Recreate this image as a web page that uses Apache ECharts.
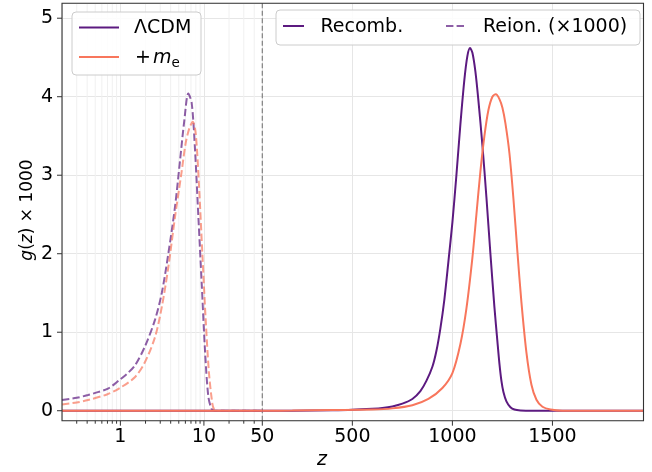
<!DOCTYPE html>
<html><head><meta charset="utf-8">
<script src="https://cdn.jsdelivr.net/npm/echarts@6/dist/echarts.min.js"></script>
<style>html,body{margin:0;padding:0;background:#fff}#c{width:652px;height:472px}</style>
</head><body><div id="c"></div>
<script>
// ---------------- data ----------------
const lcdmRecombZ = [0.2, 50, 200, 400, 500, 600, 650, 700, 750, 800, 840, 870, 900, 920, 940, 960, 980, 1000, 1020, 1040, 1060, 1075, 1088, 1100, 1115, 1130, 1150, 1170, 1190, 1210, 1225, 1235, 1245, 1255, 1270, 1290, 1310, 1340, 1400, 1955];
const lcdmRecombG = [0, 0, 0.001, 0.006, 0.012, 0.025, 0.035, 0.055, 0.09, 0.15, 0.25, 0.38, 0.56, 0.76, 1.05, 1.42, 1.9, 2.4, 3.0, 3.65, 4.22, 4.52, 4.62, 4.56, 4.32, 3.95, 3.38, 2.72, 2.0, 1.32, 0.88, 0.6, 0.38, 0.24, 0.12, 0.045, 0.015, 0.004, 0, 0];
const meRecombZ = [0.2, 50, 200, 400, 600, 700, 800, 880, 950, 1000, 1040, 1070, 1100, 1120, 1140, 1160, 1180, 1200, 1217, 1235, 1250, 1265, 1285, 1305, 1325, 1345, 1370, 1395, 1420, 1450, 1490, 1550, 1955];
const meRecombG = [0, 0, 0.002, 0.008, 0.015, 0.03, 0.07, 0.15, 0.29, 0.48, 0.85, 1.3, 1.95, 2.5, 3.05, 3.5, 3.83, 4.0, 4.03, 3.97, 3.86, 3.66, 3.28, 2.70, 2.02, 1.38, 0.74, 0.33, 0.14, 0.05, 0.015, 0, 0];
const lcdmReionZ = [0.2, 0.3, 0.41, 0.55, 0.72, 0.97, 1.2, 1.5, 1.97, 2.6, 3.13, 3.75, 4.51, 5.18, 5.83, 6.5, 7.14, 7.83, 8.58, 9.41, 10.3, 11.3, 12.4, 13.5, 50];
const lcdmReionG = [0.136, 0.165, 0.2, 0.24, 0.285, 0.39, 0.47, 0.58, 0.82, 1.16, 1.5, 2.0, 2.6, 3.19, 3.7, 4.04, 3.92, 3.32, 2.47, 1.62, 0.77, 0.18, 0.02, 0, 0];
const meReionZ = [0.2, 0.3, 0.41, 0.7, 0.97, 1.5, 1.97, 2.6, 3.13, 3.75, 4.51, 5.37, 6.05, 6.7, 7.35, 7.98, 8.75, 9.58, 10.5, 11.5, 12.6, 13.2, 14, 50];
const meReionG = [0.08, 0.105, 0.136, 0.21, 0.285, 0.43, 0.62, 0.94, 1.32, 1.83, 2.47, 3.02, 3.41, 3.6, 3.68, 3.53, 2.85, 2.0, 1.16, 0.48, 0.094, 0.02, 0, 0];

const yTicks = [0, 1, 2, 3, 4, 5];
const logMajorTicks = [1, 10, 50];
const logMinorTicks = [0.3, 0.4, 0.5, 0.6, 0.7, 0.8, 0.9, 2, 3, 4, 5, 6, 7, 8, 9, 20, 30, 40];
const linMajorTicks = [500, 1000, 1500];
const splitZ = [50];

const Z_MIN = 0.2, Z_SPLIT = 50, Z_MAX = 1955, Y_MIN = -0.127, Y_MAX = 5.19;

// ---------------- styles ----------------
const C_LCDM = '#5c1a80';
const C_ME = '#f8765c';
const FONT = 'DejaVu Sans';
const GRID_C = '#e6e6e6';
const MINOR_C = '#f0f0f0';
const SPINE = '#333333';

function pairs(zs, gs, lo, hi) {
  const out = [];
  for (let i = 0; i < zs.length; i++) if (zs[i] >= lo && zs[i] <= hi) out.push([zs[i], gs[i]]);
  return out;
}
function labelIf(v, arr) {
  for (const t of arr) if (Math.abs(v - t) <= 1e-6 * Math.max(1, Math.abs(t))) return String(t);
  return '';
}
const axisLabelBase = { fontFamily: FONT, fontSize: 19, color: '#000' };

function xTickSeries(xi, vals, len) {
  return {
    type: 'custom', xAxisIndex: xi, yAxisIndex: xi, silent: true, z: 3, clip: false,
    data: vals.map(v => [v, Y_MIN]),
    renderItem: (p, api) => {
      const a = api.coord([api.value(0), Y_MIN]);
      return { type: 'line', shape: { x1: a[0], y1: a[1], x2: a[0], y2: a[1] + len },
               style: { stroke: SPINE, lineWidth: 1 } };
    }
  };
}
function vGridSeries(xi, vals, color, dash, z, width) {
  return {
    type: 'custom', xAxisIndex: xi, yAxisIndex: xi, silent: true, z: z, clip: false,
    data: vals.map(v => [v, Y_MIN]),
    renderItem: (p, api) => {
      const a = api.coord([api.value(0), Y_MIN]);
      const b = api.coord([api.value(0), Y_MAX]);
      return { type: 'line', shape: { x1: a[0], y1: a[1], x2: b[0], y2: b[1] },
               style: { stroke: color, lineWidth: width, lineDash: dash } };
    }
  };
}
function yTickSeries(vals) {
  return {
    type: 'custom', xAxisIndex: 0, yAxisIndex: 0, silent: true, z: 3, clip: false,
    data: vals.map(v => [Z_MIN, v]),
    renderItem: (p, api) => {
      const a = api.coord([Z_MIN, api.value(1)]);
      return { type: 'line', shape: { x1: a[0] - 5, y1: a[1], x2: a[0], y2: a[1] },
               style: { stroke: SPINE, lineWidth: 1 } };
    }
  };
}
function curve(xi, data, color, dashed, z) {
  return {
    type: 'line', xAxisIndex: xi, yAxisIndex: xi, data: data, showSymbol: false, symbol: 'none',
    smooth: 0.3, z: z, silent: true,
    lineStyle: { color: color, width: 2, type: dashed ? [7.4, 3.2] : 'solid', opacity: dashed ? 0.7 : 1 }
  };
}

const PL = 62, PT = 3.3, PW = 581.5, PH = 417.4, PSPLIT = 262.3;
const LZ = 120;
const txt = (t, x, y, extra) => ({ type: 'text', z: LZ, silent: true,
  style: Object.assign({ text: t, x: x, y: y, fontFamily: FONT, fontSize: 19, fill: '#000', align: 'left', verticalAlign: 'middle' }, extra || {}) });

const option = {
  animation: false,
  backgroundColor: '#ffffff',
  grid: [
    { left: PL, top: PT, width: PSPLIT - PL, height: PH, outerBoundsMode: 'none', containLabel: false },
    { left: PSPLIT, top: PT, width: PL + PW - PSPLIT, height: PH, outerBoundsMode: 'none', containLabel: false }
  ],
  xAxis: [
    { type: 'log', gridIndex: 0, logBase: 10, min: Z_MIN, max: Z_SPLIT,
      axisLine: { show: false }, axisTick: { show: false }, minorTick: { show: false },
      axisLabel: Object.assign({ margin: 7, showMinLabel: true, showMaxLabel: true,
        formatter: v => labelIf(v, logMajorTicks) }, axisLabelBase),
      splitLine: { show: true, lineStyle: { color: GRID_C, width: 1 } } },
    { type: 'value', gridIndex: 1, min: Z_SPLIT, max: Z_MAX, minInterval: 500, maxInterval: 500,
      axisLine: { show: false }, axisTick: { show: false },
      axisLabel: Object.assign({ margin: 7, formatter: v => labelIf(v, linMajorTicks) }, axisLabelBase),
      splitLine: { show: true, lineStyle: { color: GRID_C, width: 1 } } }
  ],
  yAxis: [
    { type: 'value', gridIndex: 0, min: Y_MIN, max: Y_MAX, minInterval: 1, maxInterval: 1,
      axisLine: { show: false }, axisTick: { show: false },
      axisLabel: Object.assign({ margin: 9, formatter: v => labelIf(v, yTicks) }, axisLabelBase),
      splitLine: { show: true, lineStyle: { color: GRID_C, width: 1 } } },
    { type: 'value', gridIndex: 1, min: Y_MIN, max: Y_MAX, minInterval: 1, maxInterval: 1,
      axisLine: { show: false }, axisTick: { show: false }, axisLabel: { show: false },
      splitLine: { show: true, lineStyle: { color: GRID_C, width: 1 } } }
  ],
  series: [
    vGridSeries(0, logMinorTicks, MINOR_C, null, 1, 1),
    vGridSeries(1, splitZ, '#808080', [5, 2.5], 2.5, 1.2),
    xTickSeries(0, logMajorTicks, 5),
    xTickSeries(0, logMinorTicks, 3),
    xTickSeries(1, linMajorTicks, 5),
    yTickSeries(yTicks),
    curve(0, pairs(lcdmReionZ, lcdmReionG, Z_MIN, Z_SPLIT), C_LCDM, true, 4),
    curve(0, pairs(meReionZ, meReionG, Z_MIN, Z_SPLIT), C_ME, true, 5),
    curve(0, pairs(lcdmRecombZ, lcdmRecombG, Z_MIN, Z_SPLIT), C_LCDM, false, 6),
    curve(0, pairs(meRecombZ, meRecombG, Z_MIN, Z_SPLIT), C_ME, false, 7),
    curve(1, pairs(lcdmRecombZ, lcdmRecombG, Z_SPLIT, Z_MAX), C_LCDM, false, 6),
    curve(1, pairs(meRecombZ, meRecombG, Z_SPLIT, Z_MAX), C_ME, false, 7)
  ],
  graphic: [
    { type: 'rect', silent: true, z: 100,
      shape: { x: PL, y: PT, width: PW, height: PH },
      style: { fill: 'none', stroke: SPINE, lineWidth: 1.1 } },
    { type: 'text', silent: true, z: 100, x: 28, y: 210, rotation: Math.PI / 2,
      style: { text: '{i|g}({i|z}) × 1000', fontFamily: FONT, fontSize: 17, fill: '#000',
        align: 'center', verticalAlign: 'middle',
        rich: { i: { fontFamily: FONT, fontSize: 17, fontStyle: 'italic', fill: '#000' } } } },
    { type: 'text', silent: true, z: 100, x: 322, y: 460,
      style: { text: 'z', fontFamily: FONT, fontSize: 19, fontStyle: 'italic', fill: '#000',
        align: 'center', verticalAlign: 'middle' } },
    // legend 1
    { type: 'rect', z: LZ - 1, silent: true, shape: { x: 72, y: 12, width: 129, height: 63, r: 4 },
      style: { fill: 'rgba(255,255,255,0.85)', stroke: '#cccccc', lineWidth: 1 } },
    { type: 'line', z: LZ, silent: true, shape: { x1: 79, y1: 27.5, x2: 119, y2: 27.5 }, style: { stroke: C_LCDM, lineWidth: 2 } },
    txt('ΛCDM', 134, 28),
    { type: 'line', z: LZ, silent: true, shape: { x1: 79, y1: 57, x2: 119, y2: 57 }, style: { stroke: C_ME, lineWidth: 2 } },
    txt('+', 135, 58),
    txt('m', 153, 58, { fontStyle: 'italic' }),
    txt('e', 171.5, 63.5, { fontSize: 13.5 }),
    // legend 2
    { type: 'rect', z: LZ - 1, silent: true, shape: { x: 276, y: 10, width: 364, height: 35, r: 4 },
      style: { fill: 'rgba(255,255,255,0.85)', stroke: '#cccccc', lineWidth: 1 } },
    { type: 'line', z: LZ, silent: true, shape: { x1: 283, y1: 26, x2: 304, y2: 26 }, style: { stroke: C_LCDM, lineWidth: 2 } },
    txt('Recomb.', 320.5, 27),
    { type: 'line', z: LZ, silent: true, shape: { x1: 446, y1: 26, x2: 467, y2: 26 }, style: { stroke: C_LCDM, opacity: 0.7, lineWidth: 2, lineDash: [7.4, 3.2] } },
    txt('Reion. (×1000)', 483, 27)
  ]
};

const chart = echarts.init(document.getElementById('c'), null, { renderer: 'canvas' });
chart.setOption(option);
</script>
</body></html>
